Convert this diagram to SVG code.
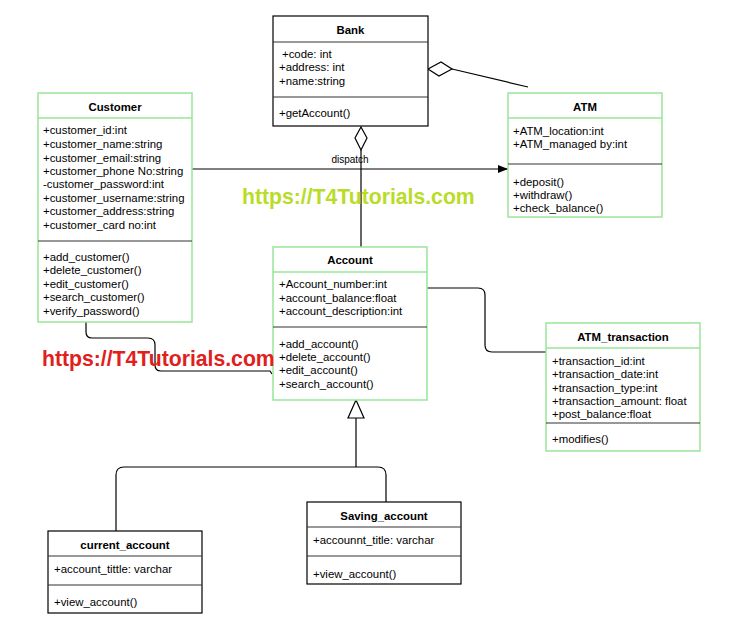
<svg xmlns="http://www.w3.org/2000/svg" width="756" height="627" viewBox="0 0 756 627">
<defs>
<style>
text{font-family:"Liberation Sans",Arial,sans-serif;font-size:11.4px;fill:#000}
.t{font-weight:bold;text-anchor:middle}
.g{fill:#fff;stroke:#99e699;stroke-width:1.5}
.k{fill:#fff;stroke:#000;stroke-width:1.2}
.hg{stroke:#99e699;stroke-width:1.5}
.dv{stroke:#333;stroke-width:1.2}
.c{fill:none;stroke:#000;stroke-width:1.2}
.wm{font-weight:bold;font-size:21.2px}
</style>
<marker id="arr" viewBox="0 0 10 10" refX="10" refY="5" markerWidth="10" markerHeight="10" markerUnits="userSpaceOnUse" orient="auto"><path d="M0,1 L10,5 L0,9 Z" fill="#000"/></marker>
</defs>
<rect width="756" height="627" fill="#fff"/>

<g id="connectors">
<path class="c" d="M452,69 L528,87"/>
<path d="M428,69 L441,62 L452,69 L439,76 Z" fill="#fff" stroke="#000" stroke-width="1.2"/>
<path class="c" d="M361,150 L361,247"/>
<path d="M361,127 L367,138 L361,150 L355,138 Z" fill="#fff" stroke="#000" stroke-width="1.2"/>
<path class="c" d="M192,169 L508,169" marker-end="url(#arr)"/>
<text x="350" y="163" text-anchor="middle" style="font-size:10px">dispatch</text>
<path class="c" d="M86,322 L86,332 Q86,338 92,338 L148,338 Q155,338 155,345 L155,365 Q155,371 161,371 L270,371 L272,374"/>
<path class="c" d="M427,288 L478,288 Q485,288 485,295 L485,345 Q485,352 492,352 L546,352"/>
<path class="c" d="M356,418 L356,467 M116,531 L116,475 Q116,467 124,467 L378,467 Q386,467 386,475 L386,502"/>
<path d="M356,400 L364,418 L348,418 Z" fill="#fff" stroke="#000" stroke-width="1.2"/>
</g>

<g id="bank">
<rect class="k" x="273" y="16" width="155" height="110"/>
<line class="dv" x1="273" y1="42" x2="428" y2="42"/>
<line class="dv" x1="273" y1="97" x2="428" y2="97"/>
<text class="t" x="350.5" y="34">Bank</text>
<text x="282" y="58">+code: int</text>
<text x="279" y="71">+address: int</text>
<text x="279" y="85">+name:string</text>
<text x="279" y="117">+getAccount()</text>
</g>

<g id="customer">
<rect class="g" x="38" y="93" width="154" height="229"/>
<line class="hg" x1="38" y1="118" x2="192" y2="118"/>
<line class="dv" x1="38" y1="241" x2="192" y2="241"/>
<text class="t" x="115" y="111">Customer</text>
<text x="43" y="134">+customer_id:int</text>
<text x="43" y="148">+customer_name:string</text>
<text x="43" y="162">+customer_email:string</text>
<text x="43" y="175">+customer_phone No:string</text>
<text x="43" y="188">-customer_password:int</text>
<text x="43" y="202">+customer_username:string</text>
<text x="43" y="215">+customer_address:string</text>
<text x="43" y="229">+customer_card no:int</text>
<text x="43" y="261">+add_customer()</text>
<text x="43" y="274">+delete_customer()</text>
<text x="43" y="288">+edit_customer()</text>
<text x="43" y="301">+search_customer()</text>
<text x="43" y="315">+verify_password()</text>
</g>

<g id="atm">
<rect class="g" x="508" y="93" width="154" height="124"/>
<line class="hg" x1="508" y1="118" x2="662" y2="118"/>
<line class="dv" x1="508" y1="164" x2="662" y2="164"/>
<text class="t" x="585" y="111">ATM</text>
<text x="513" y="135">+ATM_location:int</text>
<text x="513" y="148">+ATM_managed by:int</text>
<text x="513" y="186">+deposit()</text>
<text x="513" y="199">+withdraw()</text>
<text x="513" y="212">+check_balance()</text>
</g>

<g id="account">
<rect class="g" x="273" y="247" width="154" height="153"/>
<line class="hg" x1="273" y1="272" x2="427" y2="272"/>
<line class="dv" x1="273" y1="327" x2="427" y2="327"/>
<text class="t" x="350" y="264">Account</text>
<text x="279" y="288">+Account_number:int</text>
<text x="279" y="302">+account_balance:float</text>
<text x="279" y="315">+account_description:int</text>
<text x="279" y="348">+add_account()</text>
<text x="279" y="361">+delete_account()</text>
<text x="279" y="374">+edit_account()</text>
<text x="279" y="388">+search_account()</text>
</g>

<g id="atm_transaction">
<rect class="g" x="546" y="323" width="154" height="128"/>
<line class="hg" x1="546" y1="348" x2="700" y2="348"/>
<line class="dv" x1="546" y1="423" x2="700" y2="423"/>
<text class="t" x="623" y="341">ATM_transaction</text>
<text x="552" y="365">+transaction_id:int</text>
<text x="552" y="378">+transaction_date:int</text>
<text x="552" y="392">+transaction_type:int</text>
<text x="552" y="405">+transaction_amount: float</text>
<text x="552" y="418">+post_balance:float</text>
<text x="552" y="443">+modifies()</text>
</g>

<g id="current_account">
<rect class="k" x="48" y="531" width="154" height="82"/>
<line class="dv" x1="48" y1="556" x2="202" y2="556"/>
<line class="dv" x1="48" y1="585" x2="202" y2="585"/>
<text class="t" x="125" y="549">current_account</text>
<text x="54" y="573">+account_tittle: varchar</text>
<text x="54" y="606">+view_account()</text>
</g>

<g id="saving_account">
<rect class="k" x="307" y="502" width="154" height="82"/>
<line class="dv" x1="307" y1="527" x2="461" y2="527"/>
<line class="dv" x1="307" y1="556" x2="461" y2="556"/>
<text class="t" x="384" y="520">Saving_account</text>
<text x="313" y="544">+accounnt_title: varchar</text>
<text x="313" y="578">+view_account()</text>
</g>

<g id="watermarks">
<text class="wm" x="242" y="204" style="fill:#b8dc28">https://T4Tutorials.com</text>
<text class="wm" x="42" y="366" style="fill:#e0201c">https://T4Tutorials.com</text>
</g>
</svg>
